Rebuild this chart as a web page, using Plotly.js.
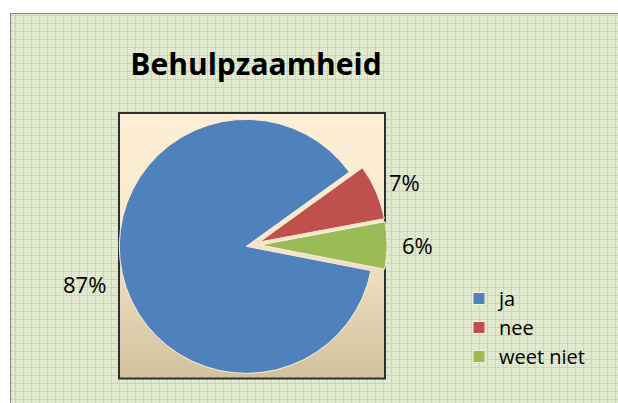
<!DOCTYPE html>
<html>
<head>
<meta charset="utf-8">
<script src="https://cdn.plot.ly/plotly-3.0.1.min.js"></script>
<style>
  html, body { margin: 0; padding: 0; background: #ffffff; }
  #chart { width: 618px; height: 403px; }
</style>
</head>
<body>
<div id="chart"></div>
<script>
// ---- data ----
const categories = ['ja', 'nee', 'weet niet'];
const percentages = [87, 7, 6];
const sliceColors = ['#4f81bd', '#c0504d', '#9bbb59'];
const pulls = [0.05, 0.06, 0.06];
const chartTitle = 'Behulpzaamheid';

const pctLabels = percentages.map(v => v + '%');

// ---- background (pattern + plot-area gradient) ----
const W = 618, H = 403;
const svg =
  '<svg xmlns="http://www.w3.org/2000/svg" width="618" height="403" viewBox="0 0 618 403">' +
  '<defs>' +
  '<pattern id="p" x="0" y="0" width="8" height="8" patternUnits="userSpaceOnUse">' +
  '<rect width="8" height="8" fill="#e3ecd1"/>' +
  '<rect x="1" y="1" width="1" height="1" fill="#d6e3bd"/><rect x="3" y="1" width="1" height="1" fill="#d6e3bd"/>' +
  '<rect x="5" y="1" width="1" height="1" fill="#d6e3bd"/><rect x="2" y="3" width="1" height="1" fill="#d6e3bd"/>' +
  '<rect x="4" y="3" width="1" height="1" fill="#d6e3bd"/><rect x="6" y="3" width="1" height="1" fill="#d6e3bd"/>' +
  '<rect x="1" y="5" width="1" height="1" fill="#d6e3bd"/><rect x="3" y="5" width="1" height="1" fill="#d6e3bd"/>' +
  '<rect x="5" y="5" width="1" height="1" fill="#d6e3bd"/>' +
  '<rect x="0" y="7" width="8" height="1" fill="#c9d9a6"/>' +
  '<rect x="7" y="0" width="1" height="8" fill="#c9d9a6"/>' +
  '</pattern>' +
  '<linearGradient id="g" x1="0" y1="0" x2="0" y2="1">' +
  '<stop offset="0" stop-color="#fdefd6"/>' +
  '<stop offset="0.45" stop-color="#f7e8cd"/>' +
  '<stop offset="1" stop-color="#d1c19d"/>' +
  '</linearGradient>' +
  '</defs>' +
  '<rect x="0" y="0" width="618" height="403" fill="#ffffff"/>' +
  '<rect x="10.5" y="13.5" width="620" height="400" fill="url(#p)" stroke="#868686" stroke-width="1"/>' +
  '<rect x="119" y="113" width="266" height="265.5" fill="url(#g)" stroke="#2e2e2e" stroke-width="2"/>' +
  '</svg>';
const bgSrc = 'data:image/svg+xml;charset=utf-8,' + encodeURIComponent(svg);

// ---- pie geometry (page pixels -> paper) ----
const cx = 252.5, cy = 245, R = 127;
const maxPull = Math.max(...pulls);
const half = R * (1 + maxPull);
const domainX = [(cx - half) / W, (cx + half) / W];
const domainY = [1 - (cy + half) / H, 1 - (cy - half) / H];

const trace = {
  type: 'pie',
  labels: categories,
  values: percentages,
  sort: false,
  direction: 'clockwise',
  rotation: 101,
  pull: pulls,
  textinfo: 'none',
  hoverinfo: 'label+percent',
  marker: { colors: sliceColors, line: { color: '#fbeed4', width: 1 } },
  domain: { x: domainX, y: domainY },
  showlegend: true
};

// label positions (page px)
const labelPos = [[84, 284], [404, 182], [417, 245]];
const annotations = pctLabels.map((t, i) => ({
  text: t,
  xref: 'paper', yref: 'paper',
  x: labelPos[i][0] / W, y: 1 - labelPos[i][1] / H,
  xanchor: 'center', yanchor: 'middle',
  showarrow: false,
  font: { family: 'Open Sans', size: 22, color: '#000000' }
}));

const layout = {
  width: W, height: H,
  margin: { l: 0, r: 0, t: 0, b: 0 },
  paper_bgcolor: 'rgba(0,0,0,0)',
  plot_bgcolor: 'rgba(0,0,0,0)',
  title: {
    text: chartTitle,
    xref: 'paper', yref: 'paper',
    x: 256 / W, xanchor: 'center',
    y: 1 - 64 / H, yanchor: 'middle',
    font: { family: 'Open Sans', size: 30, weight: 'bold', color: '#000000' }
  },
  legend: {
    x: 459 / W, xanchor: 'left',
    y: 1 - 279 / H, yanchor: 'top',
    bgcolor: 'rgba(0,0,0,0)',
    font: { family: 'Open Sans', size: 20, color: '#000000' },
    itemwidth: 30,
    traceorder: 'normal'
  },
  images: [{
    source: bgSrc, xref: 'paper', yref: 'paper',
    x: 0, y: 1, sizex: 1, sizey: 1,
    xanchor: 'left', yanchor: 'top',
    sizing: 'stretch', layer: 'below'
  }],
  annotations: annotations
};

Plotly.newPlot('chart', [trace], layout, { displayModeBar: false, staticPlot: true });
</script>
</body>
</html>
